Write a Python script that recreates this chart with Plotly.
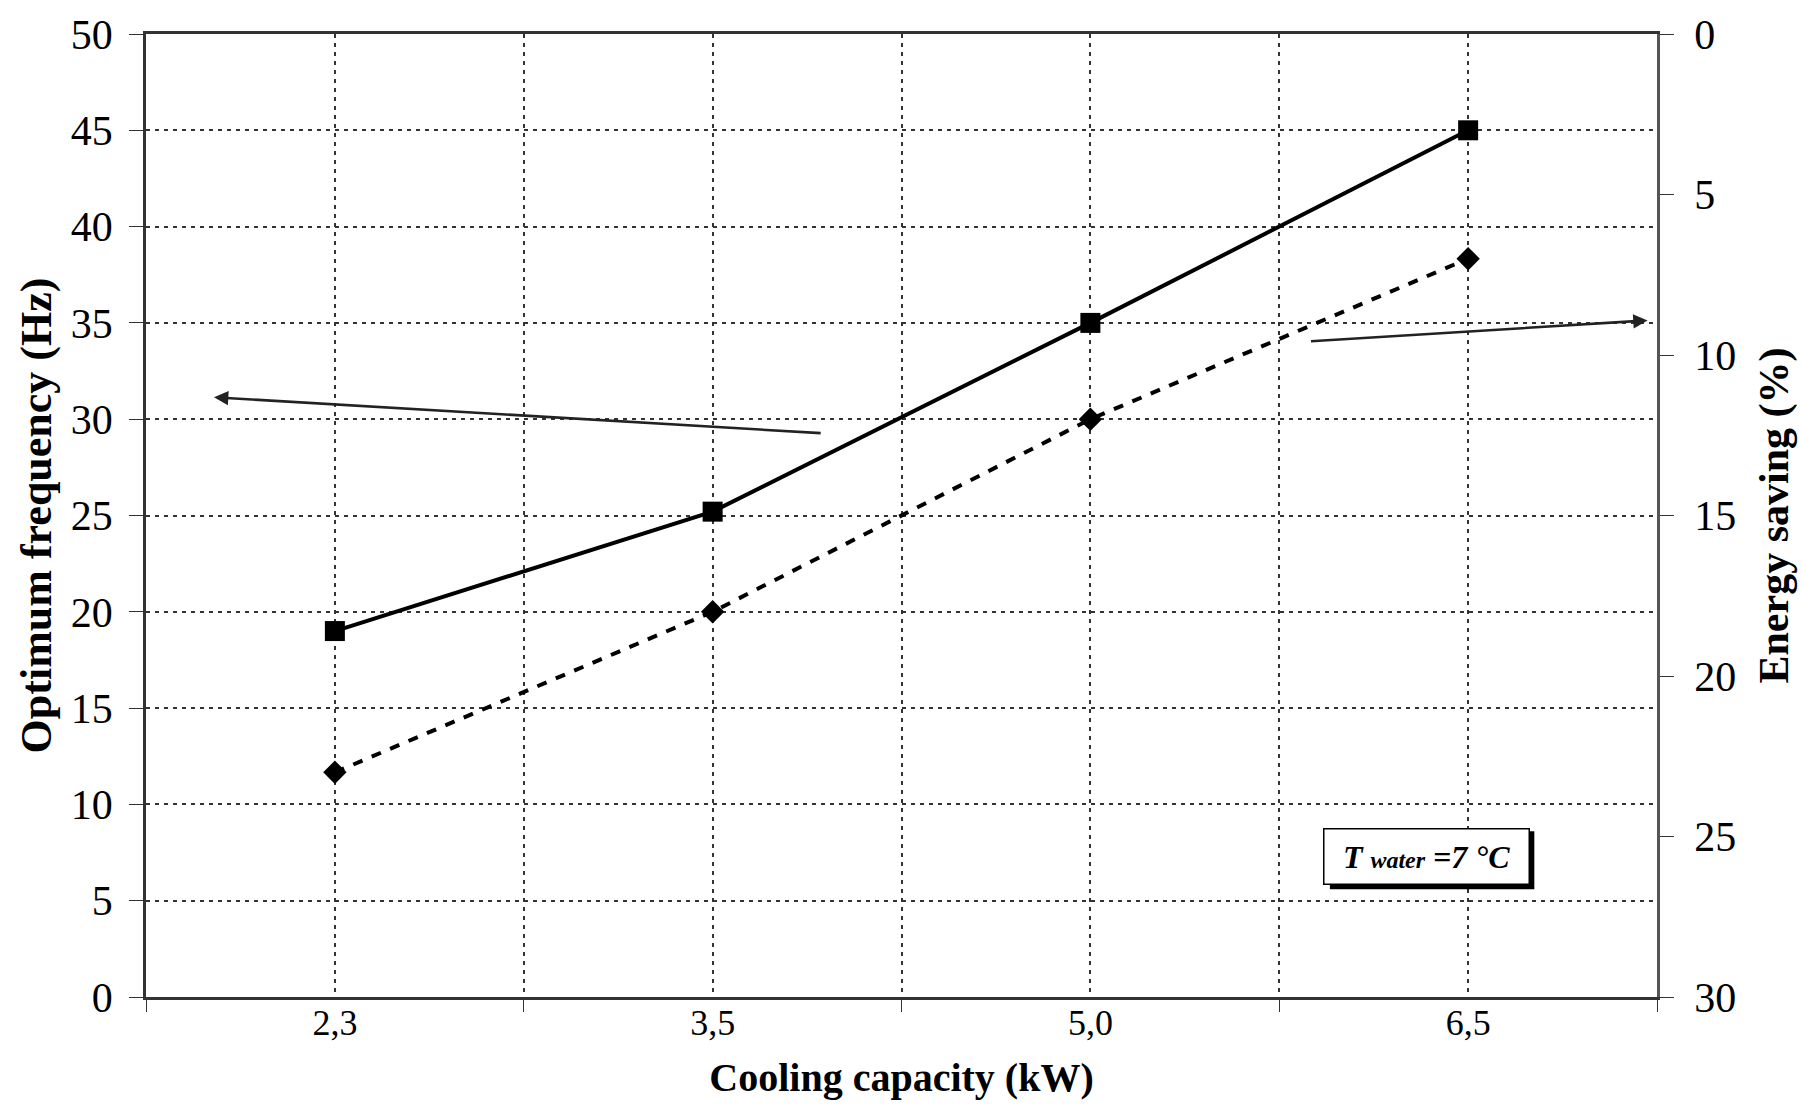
import plotly.graph_objects as go

categories = ["2,3", "3,5", "5,0", "6,5"]
frequency_hz = [19, 25.2, 35, 45]
energy_saving = [23, 18, 12, 7]
left_ticks = [0, 5, 10, 15, 20, 25, 30, 35, 40, 45, 50]
right_ticks = [0, 5, 10, 15, 20, 25, 30]

xpos = [i + 0.5 for i in range(len(categories))]
bounds = list(range(len(categories) + 1))

FONT = "Liberation Serif"
GRID = "#333"

fig = go.Figure()
fig.add_trace(go.Scatter(
    x=xpos, y=frequency_hz, mode="lines+markers",
    line=dict(color="black", width=4),
    marker=dict(symbol="square", size=20, color="black"),
    showlegend=False, yaxis="y"))
fig.add_trace(go.Scatter(
    x=xpos, y=energy_saving, mode="lines+markers",
    line=dict(color="black", width=4, dash="10px,10px"),
    marker=dict(symbol="diamond", size=18, color="black"),
    showlegend=False, yaxis="y2"))

fig.update_layout(
    width=1802, height=1106,
    margin=dict(l=146, r=141, t=32, b=109),
    plot_bgcolor="white", paper_bgcolor="white",
    font=dict(family=FONT, color="black"),
    xaxis=dict(
        range=[0, len(categories)],
        tickvals=xpos, ticktext=categories, ticks="", ticklen=0,
        tickfont=dict(size=36), ticklabelstandoff=-8,
        showgrid=True, gridcolor=GRID, griddash="4px,5px", gridwidth=1.6,
        minor=dict(tickvals=bounds, ticks="outside", ticklen=12, tickcolor="#333",
                   showgrid=True, gridcolor=GRID, griddash="4px,5px", gridwidth=1.6),
        showline=True, linecolor="#333", linewidth=2.5, mirror=True,
        zeroline=False,
        title=dict(text="<b>Cooling capacity (kW)</b>", font=dict(size=40), standoff=22),
    ),
    yaxis=dict(
        range=[0, 50], tickvals=left_ticks, ticks="outside", ticklen=14, tickcolor="#333",
        tickfont=dict(size=42), ticklabelstandoff=8,
        showgrid=True, gridcolor=GRID, griddash="4px,5px", gridwidth=1.6,
        showline=True, linecolor="#333", linewidth=2.5, zeroline=False,
        title=dict(text="<b>Optimum frequency (Hz)</b>", font=dict(size=44), standoff=6),
    ),
    yaxis2=dict(
        range=[30, 0], tickvals=right_ticks, ticks="outside", ticklen=14, tickcolor="#333",
        tickfont=dict(size=42), ticklabelstandoff=12, overlaying="y", side="right",
        showgrid=False, showline=True, linecolor="#555", linewidth=2.5, zeroline=False,
        title=dict(text="<b>Energy saving (%)</b>", font=dict(size=42), standoff=24),
    ),
)

# arrows pointing to the relevant axes
fig.add_annotation(x=0.18, y=31.14, ax=1.79, ay=29.27, xref="x", yref="y", axref="x", ayref="y",
                   text="", showarrow=True, arrowhead=2, arrowsize=1.1, arrowwidth=2.6, arrowcolor="#222")
fig.add_annotation(x=3.975, y=35.13, ax=3.08, ay=34.04, xref="x", yref="y", axref="x", ayref="y",
                   text="", showarrow=True, arrowhead=2, arrowsize=1.1, arrowwidth=2.6, arrowcolor="#222")

# label box with shadow
fig.add_shape(type="rect", xref="paper", yref="paper",
              x0=(1333 - 146) / 1515, x1=(1538 - 146) / 1515,
              y0=(997 - 889) / 965, y1=(997 - 831) / 965,
              fillcolor="black", line=dict(width=0), layer="above")
fig.add_annotation(x=(1430 - 146) / 1515, y=(997 - 856) / 965, xref="paper", yref="paper",
                   xanchor="center", yanchor="middle",
                   text="<b><i>T <span style='font-size:24px'>water</span> =7 °C</i></b>",
                   showarrow=False, font=dict(size=32, family=FONT, color="black"),
                   bgcolor="white", bordercolor="black", borderwidth=1.5,
                   width=202, height=52, align="center")

fig.write_html("out.html", config={"displayModeBar": False},
               post_script="document.body.style.margin='0';")
